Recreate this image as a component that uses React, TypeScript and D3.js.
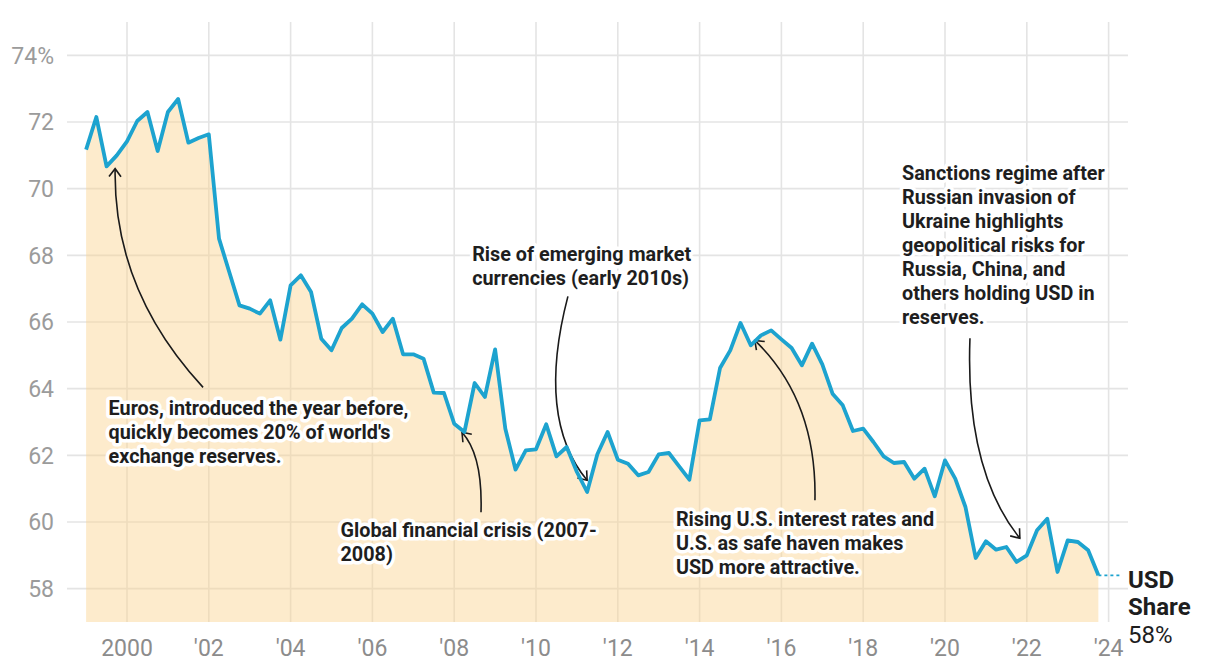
import React from "react";
import * as d3 from "d3";

// USD share of allocated FX reserves, quarterly from 1999 Q1 to 2023 Q4 (%)
const startYear = 1999;
const usdShare = [
  71.17, 72.15, 70.67, 71.0, 71.42, 72.03, 72.3, 71.13,
  72.3, 72.69, 71.38, 71.52, 71.63, 68.5, 67.5, 66.5,
  66.4, 66.25, 66.65, 65.47, 67.1, 67.4, 66.9, 65.5,
  65.15, 65.82, 66.1, 66.53, 66.25, 65.7, 66.1, 65.03,
  65.03, 64.9, 63.88, 63.87, 62.95, 62.7, 64.17, 63.75,
  65.18, 62.8, 61.57, 62.15, 62.18, 62.93, 61.97, 62.25,
  61.5, 60.9, 62.03, 62.7, 61.87, 61.75, 61.4, 61.5,
  62.03, 62.07, 61.67, 61.27, 63.05, 63.08, 64.62, 65.15,
  65.97, 65.3, 65.6, 65.75, 65.48, 65.22, 64.7, 65.35,
  64.73, 63.85, 63.5, 62.73, 62.8, 62.4, 61.97, 61.77,
  61.8, 61.3, 61.6, 60.77, 61.85, 61.3, 60.45, 58.92,
  59.42, 59.17, 59.25, 58.8, 59.0, 59.75, 60.1, 58.5,
  59.45, 59.4, 59.15, 58.4,
];

const yTicks = [58, 60, 62, 64, 66, 68, 70, 72, 74];
const yTickLabels = ["58", "60", "62", "64", "66", "68", "70", "72", "74%"];
const xTicks = [2000, 2002, 2004, 2006, 2008, 2010, 2012, 2014, 2016, 2018, 2020, 2022, 2024];
const xTickLabels = ["2000", "'02", "'04", "'06", "'08", "'10", "'12", "'14", "'16", "'18", "'20", "'22", "'24"];

// annotations in data units (year, value)
const annotations = [
  {
    lines: ["Euros, introduced the year before,", "quickly becomes 20% of world's", "exchange reserves."],
    tx: 1999.55, ty: 63.2,
    arrow: [[2001.86, 64.04], [1999.66, 66.95], [1999.71, 70.6]],
  },
  {
    lines: ["Global financial crisis (2007-", "2008)"],
    tx: 2005.22, ty: 59.54,
    arrow: [[2008.655, 60.29], [2008.70, 62.0], [2008.19, 62.69]],
  },
  {
    lines: ["Rise of emerging market", "currencies (early 2010s)"],
    tx: 2008.44, ty: 67.82,
    arrow: [[2010.78, 66.77], [2010.0, 63.1], [2011.25, 61.25]],
  },
  {
    lines: ["Rising U.S. interest rates and", "U.S. as safe haven makes", "USD more attractive."],
    tx: 2013.42, ty: 59.87,
    arrow: [[2016.82, 60.65], [2016.87, 63.65], [2015.35, 65.45]],
  },
  {
    lines: ["Sanctions regime after", "Russian invasion of", "Ukraine highlights", "geopolitical risks for", "Russia, China, and", "others holding USD in", "reserves."],
    tx: 2018.95, ty: 70.25,
    arrow: [[2020.61, 65.51], [2020.49, 61.55], [2021.83, 59.51]],
  },
];

const W = 1220;
const H = 672;
const left = 67;
const right = 1128;
const top = 22;
const bottom = 622;

export default function App() {
  const x = d3.scaleLinear().domain([1998.533, 2024.474]).range([left, right]);
  const y = d3.scaleLinear().domain([57, 75]).range([bottom, top]);
  const pts = usdShare.map((v, i) => ({ t: startYear + i / 4, v }));
  const line = d3.line<any>().x((d) => x(d.t)).y((d) => y(d.v));
  const area = d3.area<any>().x((d) => x(d.t)).y0(bottom).y1((d) => y(d.v));
  const last = pts[pts.length - 1];
  const font = "Roboto, 'Noto Sans', sans-serif";
  const lh = 23.9;
  const fs = 19.8;

  return (
    <svg width={W} height={H} style={{ position: "absolute", left: 0, top: 0, background: "#fff" }} fontFamily={font}>
      <defs>
        <marker id="ah" viewBox="-10 -7 12 14" refX={0} refY={0} markerWidth={12} markerHeight={14} markerUnits="userSpaceOnUse" orient="auto">
          <path d="M-8,-6 L0,0 L-8,6" fill="none" stroke="#1a1a1a" strokeWidth={1.6} />
        </marker>
      </defs>
      {/* grid */}
      {yTicks.map((t) => (
        <line key={"gy" + t} x1={left} x2={right} y1={y(t)} y2={y(t)} stroke="#e4e4e4" strokeWidth={1.6} />
      ))}
      {xTicks.map((t) => (
        <line key={"gx" + t} x1={x(t)} x2={x(t)} y1={top} y2={bottom} stroke="#e4e4e4" strokeWidth={1.6} />
      ))}
      {/* area */}
      <path d={area(pts) || ""} fill="#fbd38d" fillOpacity={0.45} />
      {/* y labels */}
      {yTicks.map((t, i) => (
        <text key={"yl" + t} x={54} y={y(t)} dy="0.36em" textAnchor="end" fontSize={23} fill="#9b9b9b">
          {yTickLabels[i]}
        </text>
      ))}
      {/* x labels */}
      {xTicks.map((t, i) => (
        <text key={"xl" + t} x={x(t)} y={656} textAnchor="middle" fontSize={23} fill="#8c8c8c">
          {xTickLabels[i]}
        </text>
      ))}
      {/* arrows */}
      {annotations.map((a, i) => {
        const [p0, p1, p2] = a.arrow;
        const d = `M${x(p0[0])},${y(p0[1])} Q${x(p1[0])},${y(p1[1])} ${x(p2[0])},${y(p2[1])}`;
        return <path key={"ar" + i} d={d} fill="none" stroke="#1a1a1a" strokeWidth={1.6} markerEnd="url(#ah)" />;
      })}
      {/* line */}
      <path d={line(pts) || ""} fill="none" stroke="#1da3cf" strokeWidth={3.8} strokeLinejoin="round" />
      <line x1={x(last.t)} x2={x(last.t) + 24} y1={y(last.v)} y2={y(last.v)} stroke="#1da3cf" strokeWidth={1.6} strokeDasharray="3,3" />
      {/* annotation texts */}
      {annotations.map((a, i) => (
        <g key={"an" + i}>
          <text x={x(a.tx)} y={y(a.ty)} fontSize={fs} fontWeight={700} fill="#fff" stroke="#fff" strokeWidth={7} strokeLinejoin="round">
            {a.lines.map((l, j) => (
              <tspan key={j} x={x(a.tx)} dy={j === 0 ? 0 : lh}>{l}</tspan>
            ))}
          </text>
          <text x={x(a.tx)} y={y(a.ty)} fontSize={fs} fontWeight={700} fill="#1e1e1e">
            {a.lines.map((l, j) => (
              <tspan key={j} x={x(a.tx)} dy={j === 0 ? 0 : lh}>{l}</tspan>
            ))}
          </text>
        </g>
      ))}
      {/* end label */}
      <text x={1128} y={588} fontSize={24} fontWeight={700} fill="#1e1e1e">USD</text>
      <text x={1128} y={615} fontSize={24} fontWeight={700} fill="#1e1e1e">Share</text>
      <text x={1128} y={643} fontSize={24} fill="#1e1e1e">{`${Math.round(last.v)}%`}</text>
    </svg>
  );
}
